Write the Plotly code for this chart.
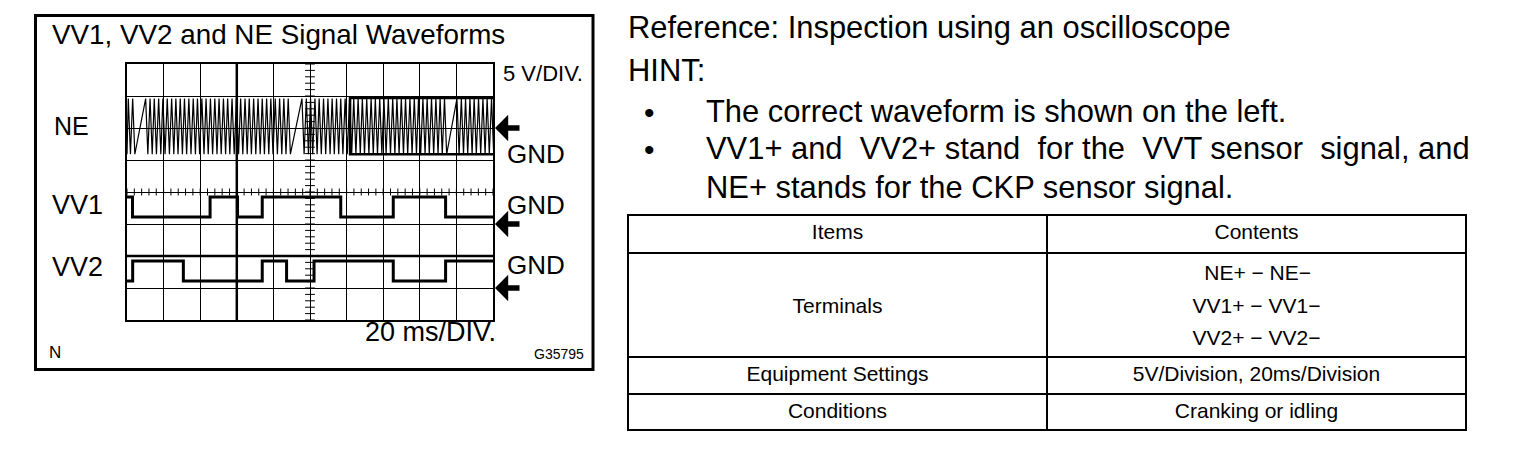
import numpy as np
import plotly.graph_objects as go

# ---------------- data ----------------
VOLTS_PER_DIV = 5
MS_PER_DIV = 20
time_range_ms = [0, 200]
div_range = [0, 8]

# ground (0 V) level of each channel, in divisions from the bottom of the grid
ne_gnd_div = 6
vv1_gnd_div = 3
vv2_gnd_div = 1

# VV1 / VV2 square waves: edge times (ms) and level (V) held from that edge on
vv1_edges_ms = [0, 3.0, 45.4, 60.4, 73.9, 116.8, 145.5, 174.1, 200]
vv1_volts = [4.2, 1.1, 4.2, 1.1, 4.2, 1.1, 4.2, 1.1, 1.1]
vv2_edges_ms = [0, 3.1, 30.8, 73.9, 87.2, 102.2, 145.5, 174.1, 200]
vv2_volts = [1.1, 4.2, 1.1, 4.2, 1.1, 4.2, 1.1, 4.2, 4.2]

# NE (crank) signal: time of each tooth's positive peak (ms); two missing teeth per revolution
ne_tooth_ms = [0.7, 3.1,
               10.2, 12.6, 14.9, 17.3, 19.6, 22.0, 24.4, 26.7, 29.1, 31.4, 33.8, 36.2, 38.5, 40.9,
               43.2, 45.6, 48.0, 50.3, 52.7, 55.0, 57.4, 59.8, 62.1, 64.5, 66.8, 69.2, 71.6, 73.9,
               76.3, 78.6, 81.0, 83.4, 85.7, 88.1,
               95.6, 98.0, 100.3, 102.7, 105.0, 107.4, 109.8, 112.1, 114.5, 116.8, 119.2, 121.6,
               123.9, 126.3, 128.6, 131.0, 133.4, 135.7, 138.1, 140.4, 142.8, 145.2, 147.5, 149.9,
               152.2, 154.6, 157.0, 159.3, 161.7, 164.0, 166.4, 168.8, 171.1, 173.5,
               180.3, 182.7, 185.0, 187.4, 189.7, 192.1, 194.5, 196.8, 199.2]
ne_pos_peak_v = 4.6
ne_neg_peak_v = -4.1
ne_half_tooth_ms = 1.18
ne_start_v = -4.1
# envelope box drawn on the right part of the NE trace
ne_box_ms = [121.9, 200]
ne_box_v = [-4.1, 4.7]

# heavier grid lines in the picture
heavy_grid_ms = [60]
heavy_grid_div = [2]

channel_labels = ["NE", "VV1", "VV2"]
gnd_label = "GND"
title_text = "VV1, VV2 and NE Signal Waveforms"
vdiv_text = "5 V/DIV."
tdiv_text = "20 ms/DIV."
corner_text = "N"
code_text = "G35795"

hint_lines = ["Reference: Inspection using an oscilloscope", "HINT:"]
bullet_lines = ["The correct waveform is shown on the left.",
                "VV1+ and\u00a0 VV2+ stand\u00a0 for the\u00a0 VVT sensor\u00a0 signal, and",
                "NE+ stands for the CKP sensor signal."]

table_header = ["Items", "Contents"]
terminals_item = "Terminals"
terminal_pairs = ["\u00a0\u00a0NE+ \u2212 NE\u2212", "VV1+ \u2212 VV1\u2212", "VV2+ \u2212 VV2\u2212"]
settings_row = ["Equipment Settings", "5V/Division, 20ms/Division"]
conditions_row = ["Conditions", "Cranking or idling"]

# ---------------- figure ----------------
W, H = 1520, 450
FONT = "Liberation Sans, Arial, sans-serif"
TFS = 21  # visible table text size
TLINE = 25  # font size that sets the line pitch of the terminals row


def px(x):
    return x / W


def py(y):
    return 1 - y / H


def to_div(gnd, volts):
    return [gnd + v / VOLTS_PER_DIV for v in volts]


def small(s):
    return f'<span style="font-size:{TFS}px">{s}</span>'


fig = go.Figure()

# NE trace built from the tooth list
ne_t = [time_range_ms[0]]
ne_v = [ne_start_v]
for t in ne_tooth_ms:
    ne_t += [t, t + ne_half_tooth_ms]
    ne_v += [ne_pos_peak_v, ne_neg_peak_v]
fig.add_trace(go.Scatter(x=ne_t, y=to_div(ne_gnd_div, ne_v), mode="lines",
                         line=dict(color="black", width=1.2), hoverinfo="skip"))
fig.add_trace(go.Scatter(x=[ne_box_ms[1], ne_box_ms[0], ne_box_ms[0], ne_box_ms[1]],
                         y=to_div(ne_gnd_div, [ne_box_v[1], ne_box_v[1], ne_box_v[0], ne_box_v[0]]),
                         mode="lines", line=dict(color="black", width=2.5), hoverinfo="skip"))
fig.add_trace(go.Scatter(x=vv1_edges_ms, y=to_div(vv1_gnd_div, vv1_volts), mode="lines",
                         line=dict(color="black", width=3, shape="hv"), hoverinfo="skip"))
fig.add_trace(go.Scatter(x=vv2_edges_ms, y=to_div(vv2_gnd_div, vv2_volts), mode="lines",
                         line=dict(color="black", width=3, shape="hv"), hoverinfo="skip"))

# centre graticule axes with minor ticks (5 per division)
tx = np.arange(time_range_ms[0], time_range_ms[1] + 0.01, MS_PER_DIV / 5)
ty = np.arange(div_range[0], div_range[1] + 0.001, 1 / 5)
fig.add_trace(go.Scatter(x=tx, y=[4] * len(tx), mode="markers",
                         marker=dict(symbol="line-ns", size=5, line=dict(color="black", width=1)),
                         hoverinfo="skip"))
fig.add_trace(go.Scatter(x=[100] * len(ty), y=ty, mode="markers",
                         marker=dict(symbol="line-ew", size=7, line=dict(color="black", width=1)),
                         hoverinfo="skip"))

# table: upper part (header + terminals row with wider line pitch), lower part (two single rows)
tline = dict(color="black", width=2.5)
tfill = dict(color="white")
fig.add_trace(go.Table(
    domain=dict(x=[px(628), px(1466)], y=[py(360), py(215)]),
    columnwidth=[1, 1],
    header=dict(values=table_header, height=38, align="center", line=tline, fill=tfill,
                font=dict(family=FONT, size=TFS, color="black")),
    cells=dict(values=[[small("\u00a0<br>" + terminals_item)], [small("<br>".join(terminal_pairs))]],
               height=37, align="center", line=tline, fill=tfill,
               font=dict(family=FONT, size=TLINE, color="black")),
))
fig.add_trace(go.Table(
    domain=dict(x=[px(628), px(1466)], y=[py(432), py(357)]),
    columnwidth=[1, 1],
    header=dict(values=settings_row, height=37, align="center", line=tline, fill=tfill,
                font=dict(family=FONT, size=TFS, color="black")),
    cells=dict(values=[[conditions_row[0]], [conditions_row[1]]], height=36, align="center",
               line=tline, fill=tfill, font=dict(family=FONT, size=TFS, color="black")),
))

axis_common = dict(showgrid=True, gridcolor="black", gridwidth=1, zeroline=False,
                   showline=True, mirror=True, linecolor="black", linewidth=1.5,
                   showticklabels=False, ticks="", fixedrange=True)
fig.update_layout(
    width=W, height=H, margin=dict(l=0, r=0, t=0, b=0),
    paper_bgcolor="white", plot_bgcolor="white", showlegend=False,
    xaxis=dict(domain=[px(127), px(493)], range=time_range_ms, dtick=MS_PER_DIV, **axis_common),
    yaxis=dict(domain=[py(320), py(64)], range=div_range, dtick=1, **axis_common),
)

shapes = [dict(type="rect", xref="paper", yref="paper", x0=px(35.5), x1=px(593),
               y0=py(369.5), y1=py(15.5), line=dict(color="black", width=3))]
for t in heavy_grid_ms:
    shapes.append(dict(type="line", xref="x", yref="y", x0=t, x1=t, y0=div_range[0], y1=div_range[1],
                       line=dict(color="black", width=2.5)))
for d in heavy_grid_div:
    shapes.append(dict(type="line", xref="x", yref="y", x0=time_range_ms[0], x1=time_range_ms[1],
                       y0=d, y1=d, line=dict(color="black", width=2.5)))
fig.update_layout(shapes=shapes)


def text(s, x, y, size, xanchor="left"):
    fig.add_annotation(text=s, x=px(x), y=py(y), xref="paper", yref="paper", xanchor=xanchor,
                       yanchor="middle", showarrow=False, borderpad=0,
                       font=dict(family=FONT, size=size, color="black"))


text(title_text, 51, 34, 27.8)
text(vdiv_text, 502, 74, 22)
text(channel_labels[0], 53, 126, 25)
text(channel_labels[1], 51, 205, 27)
text(channel_labels[2], 51, 267, 27)
text(gnd_label, 506, 154, 26)
text(gnd_label, 506, 205, 26)
text(gnd_label, 506, 265, 26)
text(tdiv_text, 364, 332, 27)
text(corner_text, 48, 352, 17)
text(code_text, 533, 354, 14)

RFS = 30.9
text(hint_lines[0], 627, 28, RFS)
text(hint_lines[1], 627, 70, RFS)
text("\u2022", 649, 113, 30, xanchor="center")
text("\u2022", 649, 150, 30, xanchor="center")
text(bullet_lines[0], 705, 111, RFS)
text(bullet_lines[1], 705, 148, RFS)
text(bullet_lines[2], 705, 187, RFS)

# ground arrows
for g in [ne_gnd_div, vv1_gnd_div, vv2_gnd_div]:
    fig.add_annotation(x=time_range_ms[1], y=g, xref="x", yref="y", text="", showarrow=True,
                       ax=28, ay=0, arrowhead=1, arrowsize=0.8, arrowwidth=5.5,
                       arrowcolor="black", standoff=2)

fig.write_html("out.html", config={"displayModeBar": False},
               post_script="document.body.style.margin='0';document.body.style.overflow='hidden';")
